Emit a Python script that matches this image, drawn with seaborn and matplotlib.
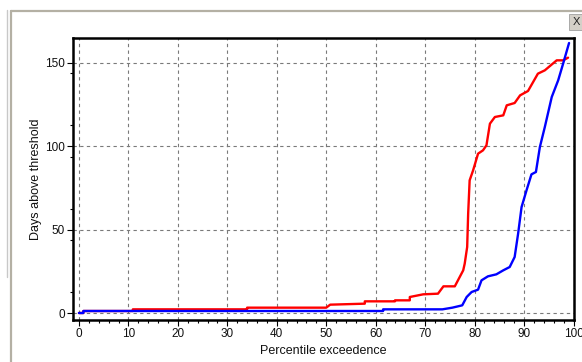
import matplotlib
matplotlib.use("Agg")
import matplotlib.pyplot as plt
from matplotlib.lines import Line2D
from matplotlib.patches import Rectangle
from matplotlib.ticker import FixedLocator, MultipleLocator
import numpy as np
import pandas as pd
import seaborn as sns

# Exceedance curves: percentile (x) vs days above threshold (y)
red_pct = [0, 0.9, 0.9, 10.9, 10.9, 34.0, 34.0, 50.0, 50.8, 57.8, 57.8, 63.9, 63.9,
           66.9, 66.9, 69.6, 72.6, 73.7, 76.0, 77.7, 78.0, 78.5, 78.7, 79.0, 79.7,
           80.7, 81.7, 82.4, 83.1, 84.1, 85.8, 86.5, 88.1, 89.2, 90.8, 92.8, 94.2,
           96.6, 97.9, 98.9]
red_days = [0, 0, 1.2, 1.2, 2.2, 2.2, 3.2, 3.2, 5.0, 5.6, 7.0, 7.0, 7.6,
            7.6, 9.6, 11.2, 11.6, 16.0, 16.0, 25.6, 29.6, 39.6, 59.6, 79.6, 85.6,
            95.6, 97.6, 100.6, 113.6, 117.6, 118.6, 124.6, 126.0, 130.6, 133.2, 143.6, 145.6,
            151.6, 151.6, 153.2]

blue_pct = [0, 0.9, 0.9, 61.5, 61.5, 73.5, 75.5, 77.5, 78.4, 79.4, 80.7, 81.4, 82.7,
            84.4, 85.8, 87.1, 88.1, 88.8, 89.5, 90.5, 91.5, 92.4, 93.2, 94.2, 95.6,
            96.9, 97.9, 99.1]
blue_days = [0, 0, 1.2, 1.2, 2.2, 2.2, 3.2, 4.6, 9.6, 12.6, 14.0, 19.6, 22.0,
             23.2, 25.6, 27.6, 33.6, 47.6, 63.6, 73.6, 83.2, 84.6, 99.6, 111.6, 129.6,
             139.6, 149.6, 162.0]

x_ticks = [0, 10, 20, 30, 40, 50, 60, 70, 80, 90, 100]
y_ticks = [0, 50, 100, 150]
y_minor = [12.5, 43.75, 62.5, 93.75, 112.5, 143.75]

df = pd.concat([
    pd.DataFrame({"pct": red_pct, "days": red_days, "run": "Run A"}),
    pd.DataFrame({"pct": blue_pct, "days": blue_days, "run": "Run B"}),
], ignore_index=True)

sns.set_theme(style="white")
plt.rcParams["font.family"] = ["Liberation Sans", "DejaVu Sans"]

W, H = 582, 362
fig = plt.figure(figsize=(W / 100, H / 100), dpi=100)
fig.patch.set_facecolor("white")

# axes box in pixel terms
left, right, top, bottom = 73, 574, 38, 320
ax = fig.add_axes([left / W, (H - bottom) / H, (right - left) / W, (bottom - top) / H])
ax.set_facecolor("white")

sns.lineplot(data=df, x="pct", y="days", hue="run", hue_order=["Run A", "Run B"],
             palette={"Run A": "#ff0000", "Run B": "#0000ff"},
             sort=False, estimator=None, legend=False, linewidth=1.7, ax=ax)

ax.set_xlim(-1.2, 100.1)
ax.set_ylim(-4.2, 165)
ax.set_xticks(x_ticks)
ax.set_yticks(y_ticks)
ax.xaxis.set_minor_locator(MultipleLocator(2))
ax.yaxis.set_minor_locator(FixedLocator(y_minor))

ax.grid(True, which="major", color="#7a7a7a", linestyle=(0, (3, 3)), linewidth=0.8)
ax.set_axisbelow(True)

for s in ax.spines.values():
    s.set_visible(True)
    s.set_color("black")
    s.set_linewidth(1.8)

ax.tick_params(which="major", direction="out", length=4, width=0.8, color="black",
               labelsize=8.5, labelcolor="#111111", pad=2, bottom=True, left=True)
ax.tick_params(which="minor", direction="out", length=2.5, width=0.8, color="black",
               bottom=True, left=True)

ax.set_xlabel("Percentile exceedence", fontsize=9, color="#111111", labelpad=3)
ax.set_ylabel("Days above threshold", fontsize=9, color="#111111", labelpad=2)

# window frame around the chart panel
px = lambda x: x / W
py = lambda y: 1 - y / H
fig.add_artist(Line2D([px(7), px(7)], [py(10), py(277)], color="#c8c8c8", lw=1.0))
fig.add_artist(Line2D([px(11), px(11)], [py(11), py(362)], color="#b4b0a4", lw=1.6))
fig.add_artist(Line2D([px(11), px(582)], [py(11), py(11)], color="#b4b0a4", lw=1.6))

# close button
fig.add_artist(Rectangle((px(569), py(30)), px(582) - px(569), py(14) - py(30),
                         facecolor="#d4d0c8", edgecolor="#a0a0a0", lw=0.6))
fig.text(px(576), py(22), "X", ha="center", va="center", fontsize=8, color="#222222")

fig.savefig("out.png", dpi=100, facecolor="white")
